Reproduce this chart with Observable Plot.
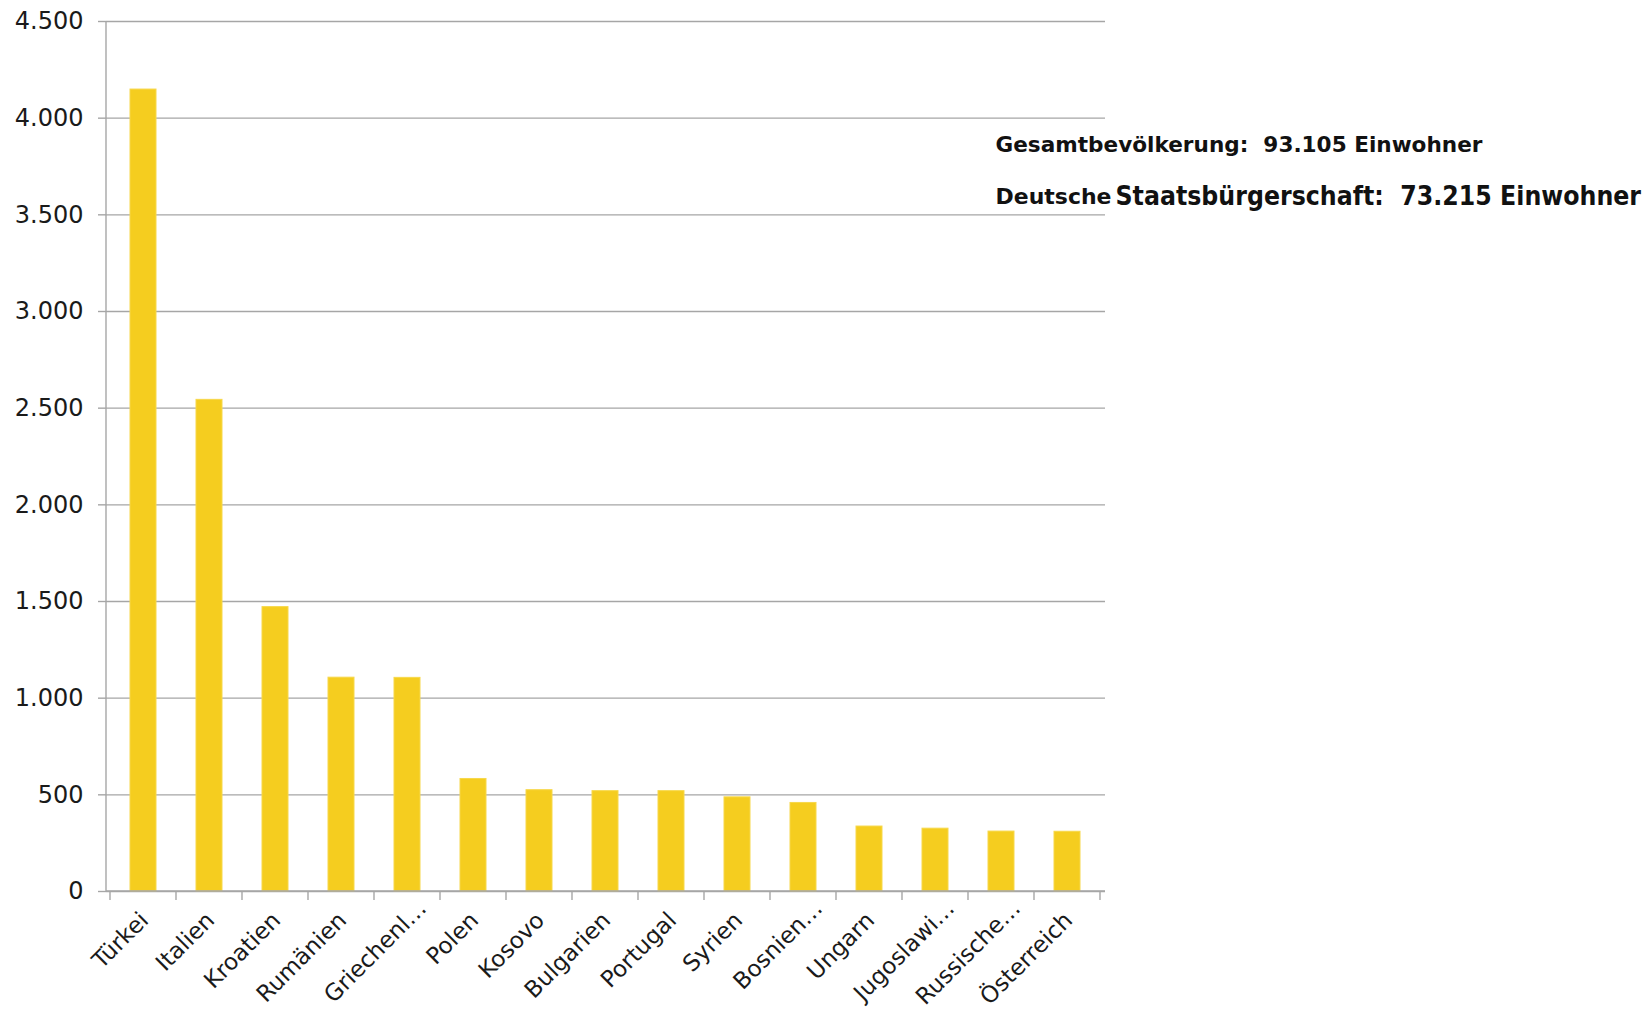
<!DOCTYPE html>
<html><head><meta charset="utf-8">
<script src="https://cdn.jsdelivr.net/npm/d3@7"></script>
<script src="https://cdn.jsdelivr.net/npm/@observablehq/plot@0.6"></script>
<style>
html,body{margin:0;padding:0;background:#fff;}
#chart{width:1650px;height:1010px;overflow:hidden;}
</style>
</head><body><div id="chart"></div>
<script>
// ---- Data ----
const countries = ["Türkei","Italien","Kroatien","Rumänien","Griechenl…","Polen","Kosovo","Bulgarien","Portugal","Syrien","Bosnien…","Ungarn","Jugoslawi…","Russische…","Österreich"];
const residents = [4148, 2543, 1471, 1106, 1105, 582, 524, 519, 519, 487, 458, 336, 325, 310, 309];
const yTicks = [0, 500, 1000, 1500, 2000, 2500, 3000, 3500, 4000, 4500];
const noteLine1 = "Gesamtbevölkerung:\u00a0 93.105 Einwohner";
const noteLine2a = "Deutsche";
const noteLine2b = "Staatsbürgerschaft:\u00a0 73.215 Einwohner";

const data = countries.map((c, i) => ({country: c, value: residents[i]}));
const de = d3.formatLocale({decimal: ",", thousands: ".", grouping: [3], currency: ["", "€"]});
const fmt = de.format(",d");
const GRID = "#a6a6a6";
const FONT = "'DejaVu Sans', Verdana, sans-serif";
const truncated = countries.filter(c => c.endsWith("…"));
const full = countries.filter(c => !c.endsWith("…"));

// Excel-style category axis: line, ticks between categories, and left value-axis line
function categoryFrame() {
  return Plot.ruleY([0], {
    render(index, scales, values, dims) {
      const x = scales.x, y = scales.y;
      const step = x.step(), bw = x.bandwidth();
      const y0 = y(0);
      const left = dims.marginLeft, right = dims.width - dims.marginRight;
      const g = d3.create("svg:g").attr("stroke", GRID).attr("stroke-width", 1.4).attr("fill", "none");
      g.append("line").attr("x1", left).attr("x2", left).attr("y1", dims.marginTop).attr("y2", y0);
      g.append("line").attr("x1", left).attr("x2", right).attr("y1", y0).attr("y2", y0);
      const bounds = countries.map(c => x(c) + bw / 2 - step / 2);
      bounds.push(x(countries[countries.length - 1]) + bw / 2 + step / 2);
      for (const b of bounds) {
        g.append("line").attr("x1", b).attr("x2", b).attr("y1", y0).attr("y2", y0 + 9);
      }
      return g.node();
    }
  });
}

const plot = Plot.plot({
  width: 1650,
  height: 1010,
  marginLeft: 106,
  marginRight: 545,
  marginTop: 21,
  marginBottom: 119,
  style: {fontFamily: FONT, fontSize: "24px", color: "#1a1a1a", background: "#fff", overflow: "visible"},
  x: {domain: countries, paddingInner: 0.6, paddingOuter: 0.3, label: null},
  y: {domain: [0, 4500], label: null},
  marks: [
    Plot.gridY(yTicks, {stroke: GRID, strokeOpacity: 1, strokeWidth: 1.4}),
    Plot.barY(data, {x: "country", y: "value", fill: "#F5CD1F", stroke: "#F7D84A", strokeWidth: 1}),
    categoryFrame(),
    Plot.axisY(yTicks, {tickSize: 8, tickPadding: 15, tickFormat: fmt, fontSize: 24, stroke: GRID, strokeWidth: 1.4, strokeOpacity: 1, label: null, fill: "#1a1a1a"}),
    Plot.axisX(full, {tickSize: 0, tickRotate: -45, tickPadding: 25, dx: 1, fontSize: 23, label: null, fill: "#1a1a1a"}),
    Plot.axisX(truncated, {tickSize: 0, tickRotate: -45, tickPadding: 13, dx: 15, fontSize: 23, label: null, fill: "#1a1a1a"}),
    Plot.text([noteLine1], {text: d => d, frameAnchor: "top-left", lineAnchor: "middle", dx: 889, dy: 124.4, textAnchor: "start", fontSize: 20.5, fontWeight: "bold", fill: "#111"}),
    Plot.text([noteLine2a], {text: d => d, frameAnchor: "top-left", lineAnchor: "middle", dx: 889, dy: 176.4, textAnchor: "start", fontSize: 20.5, fontWeight: "bold", fill: "#111"}),
    Plot.text([noteLine2b], {text: d => d, frameAnchor: "top-left", lineAnchor: "middle", dx: 1009, dy: 174.7, textAnchor: "start", fontSize: 26, fontWeight: "bold", fill: "#111"})
  ]
});

document.getElementById("chart").append(plot);

// squeeze the annotation strings horizontally to the widths used in the reference
const widths = new Map([[noteLine1, 488], [noteLine2a, 116], [noteLine2b, 526]]);
d3.select(plot).selectAll("text").each(function() {
  const t = this.textContent;
  if (widths.has(t)) {
    const bb = this.getBBox();
    const sx = widths.get(t) / bb.width;
    const prev = this.getAttribute("transform") || "";
    this.setAttribute("transform", `${prev} translate(${bb.x},0) scale(${sx},1) translate(${-bb.x},0)`);
  }
});
</script>
</body></html>
